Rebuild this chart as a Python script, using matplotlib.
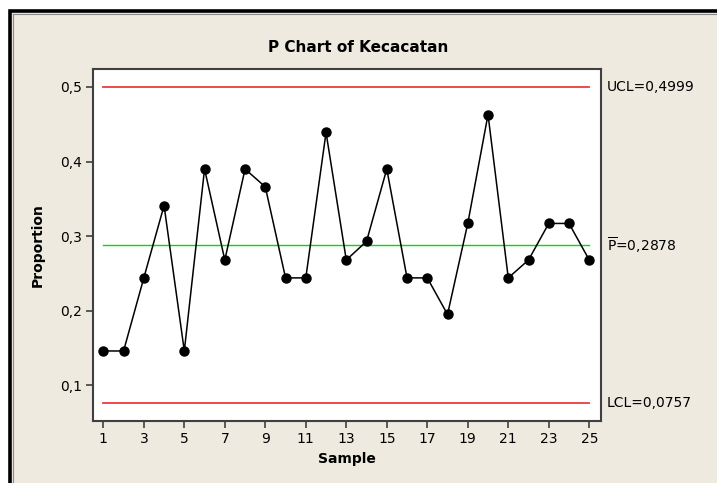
import matplotlib
matplotlib.use("Agg")
import matplotlib.pyplot as plt
from matplotlib.patches import Rectangle
from matplotlib.lines import Line2D

# Data (proportion defective per sample)
samples = list(range(1, 26))
proportion = [0.146, 0.146, 0.244, 0.341, 0.146, 0.390, 0.268, 0.390, 0.366, 0.244,
              0.244, 0.439, 0.268, 0.293, 0.390, 0.244, 0.244, 0.195, 0.317, 0.463,
              0.244, 0.268, 0.317, 0.317, 0.268]
ucl = 0.4999
center = 0.2878
lcl = 0.0757
x_ticks = [1, 3, 5, 7, 9, 11, 13, 15, 17, 19, 21, 23, 25]
y_ticks = [0.1, 0.2, 0.3, 0.4, 0.5]

W, H = 717, 483
beige = "#EEEAE0"

fig = plt.figure(figsize=(W / 100, H / 100), dpi=100, facecolor="white")

# Minitab style outer frame (cropped at right/bottom)
fig.add_artist(Rectangle((9.5 / W, -0.1), 1.2, 1.1 - 10.5 / H, transform=fig.transFigure,
                         facecolor=beige, edgecolor="black", linewidth=2.6, zorder=0))
fig.add_artist(Line2D([12.5 / W, 12.5 / W], [-0.1, 1 - 13.5 / H], transform=fig.transFigure,
                      color="#8a8a8a", linewidth=0.8))
fig.add_artist(Line2D([12.5 / W, 1.1], [1 - 13.5 / H, 1 - 13.5 / H], transform=fig.transFigure,
                      color="#8a8a8a", linewidth=0.8))

ax = fig.add_axes([93 / W, 62 / H, 508 / W, 352 / H])
ax.set_facecolor("white")

ax.plot([1, 25], [ucl, ucl], color="#EE3B3B", linewidth=1.3)
ax.plot([1, 25], [lcl, lcl], color="#EE3B3B", linewidth=1.3)
ax.plot([1, 25], [center, center], color="#00DD00", linewidth=1.0)
ax.plot(samples, proportion, color="black", linewidth=1.1, marker="o", markersize=6.5)

ax.set_xlim(0.49, 25.58)
ax.set_ylim(0.0521, 0.5241)
ax.set_xticks(x_ticks)
ax.set_xticklabels([str(t) for t in x_ticks])
ax.set_yticks(y_ticks)
ax.set_yticklabels([f"{t:.1f}".replace(".", ",") for t in y_ticks])

for s in ax.spines.values():
    s.set_color("#404040")
    s.set_linewidth(1.5)
ax.tick_params(direction="out", length=5, width=1.2, color="#404040",
               labelsize=10, labelcolor="black", pad=3)

ax.set_xlabel("Sample", fontsize=10, fontweight="bold", labelpad=4)
ax.set_ylabel("Proportion", fontsize=10, fontweight="bold", labelpad=11)
fig.text(0.5, 1 - 47 / H, "P Chart of Kecacatan", ha="center", va="center",
         fontsize=11, fontweight="bold")

# Limit labels on the right
lab_kw = dict(transform=ax.get_yaxis_transform(), ha="left", va="center", fontsize=10,
              clip_on=False)
ax.text(1.012, ucl, "UCL=0,4999", **lab_kw)
ax.text(1.012, center, r"$\overline{\mathrm{P}}$=0,2878", **lab_kw)
ax.text(1.012, lcl, "LCL=0,0757", **lab_kw)

fig.savefig("out.png", dpi=100, facecolor=fig.get_facecolor())
